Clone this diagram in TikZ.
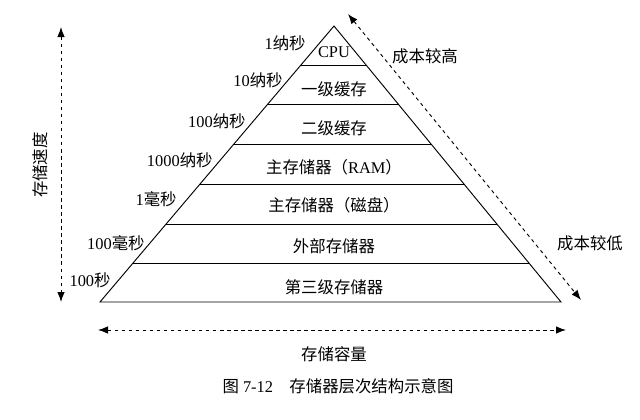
\documentclass[tikz,border=0pt]{standalone}
\usepackage{fontspec}
\setmainfont{Liberation Serif}
\newfontfamily\cjk{Noto Sans CJK SC}
\newcommand{\zh}[1]{{\cjk #1}}
\usetikzlibrary{positioning,calc,arrows.meta}

\begin{document}
\begin{tikzpicture}[x=0.03cm,y=-0.03cm,inner sep=1pt]
    \tikzset{level/.style={font=\fontsize{14}{16}\selectfont}}
    \tikzset{speed/.style={font=\fontsize{14}{16}\selectfont,anchor=east}}
    \tikzset{side/.style={font=\fontsize{14}{16}\selectfont}}
    \tikzset{dasharrow/.style={dashed,thick,{Latex[length=3mm]}-{Latex[length=3mm]}}}
    \useasboundingbox (0,0) rectangle (640,420);

    % pyramid
    \coordinate (apex) at (334,26);
    \coordinate (bl) at (100,302);
    \coordinate (br) at (561,302);
    \draw[thick] (apex) -- (bl) -- (br) -- cycle;
    \foreach \y in {65,104,144,184,224,263}
        \draw[thick] ($(apex)!{(\y-26)/276}!(bl)$) -- ($(apex)!{(\y-26)/276}!(br)$);

    % levels
    \node[level] (cpu) at (334,52) {CPU};
    \node[level] (l1) at (334,89) {\zh{一级缓存}};
    \node[level] (l2) at (334,128) {\zh{二级缓存}};
    \node[level] (ram) at (334,167) {\zh{主存储器（}RAM\zh{）}};
    \node[level] (disk) at (334,205) {\zh{主存储器（磁盘）}};
    \node[level] (ext) at (334,246) {\zh{外部存储器}};
    \node[level] (third) at (334,287) {\zh{第三级存储器}};

    % access times
    \node[speed] (t1) at (307,43) {1\zh{纳秒}};
    \node[speed] (t2) at (284,80) {10\zh{纳秒}};
    \node[speed] (t3) at (247,121) {100\zh{纳秒}};
    \node[speed] (t4) at (214,160) {1000\zh{纳秒}};
    \node[speed] (t5) at (178,199) {1\zh{毫秒}};
    \node[speed] (t6) at (146,243) {100\zh{毫秒}};
    \node[speed] (t7) at (112,280) {100\zh{秒}};

    % arrows
    \coordinate (vtop) at (61,27);
    \coordinate (vbot) at (61,302);
    \draw[dasharrow] (vtop) -- (vbot);
    \node[side,rotate=90] (speedlbl) at (40,165) {\zh{存储速度}};

    \coordinate (dtop) at (348,14);
    \coordinate (dbot) at (581,300);
    \draw[dasharrow] (dtop) -- (dbot);
    \node[side] (costhi) at (425,56) {\zh{成本较高}};
    \node[side] (costlo) at (590,243) {\zh{成本较低}};

    \coordinate (hleft) at (98,330);
    \coordinate (hright) at (566,330);
    \draw[dasharrow] (hleft) -- (hright);
    \node[side] (cap) at (334,354) {\zh{存储容量}};

    \node[font=\fontsize{14}{16}\selectfont] (caption) at (338,386) {\zh{图} 7-12\quad\zh{存储器层次结构示意图}};
\end{tikzpicture}
\end{document}
